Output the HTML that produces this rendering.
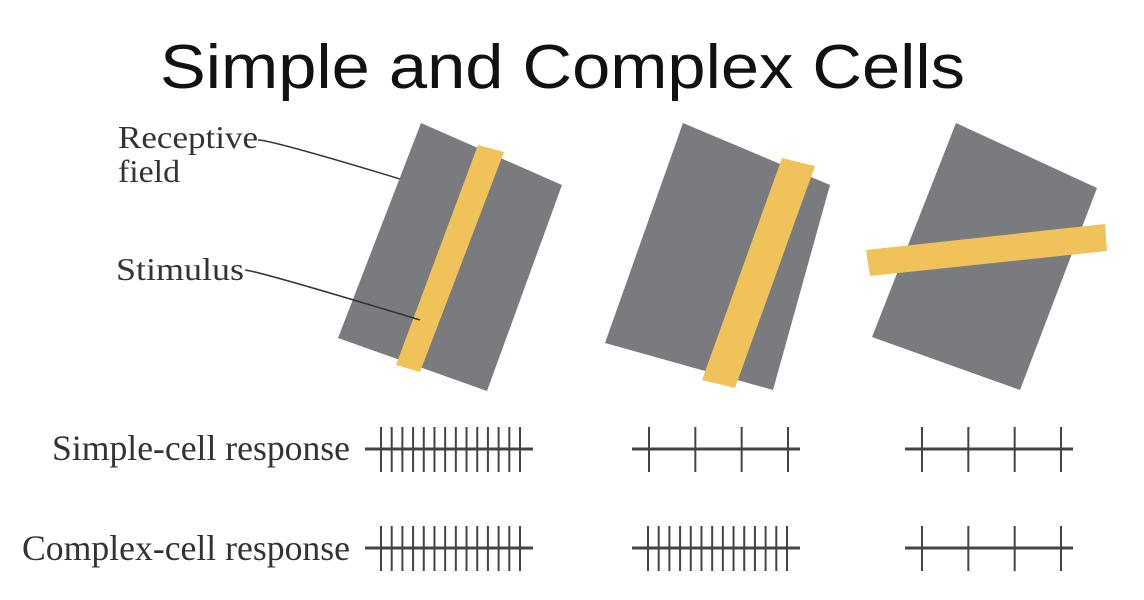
<!DOCTYPE html>
<html><head><meta charset="utf-8"><style>
body{margin:0;background:#fff;width:1144px;height:600px;overflow:hidden}
svg{display:block}
</style></head><body>
<svg width="1144" height="600">
<text x="160" y="88" textLength="805" lengthAdjust="spacingAndGlyphs" font-family="Liberation Sans, sans-serif" font-size="62" fill="#111">Simple and Complex Cells</text>
<g font-family="Liberation Serif, serif" font-size="32" fill="#333">
<text x="118" y="148" textLength="140" lengthAdjust="spacingAndGlyphs">Receptive</text>
<text x="118" y="182" textLength="62" lengthAdjust="spacingAndGlyphs">field</text>
<text x="116" y="280" textLength="128" lengthAdjust="spacingAndGlyphs">Stimulus</text>
<text x="52" y="460" font-size="36" textLength="298" lengthAdjust="spacingAndGlyphs">Simple-cell response</text>
<text x="22" y="560" font-size="36" textLength="328" lengthAdjust="spacingAndGlyphs">Complex-cell response</text>
</g>
<path d="M258,140 Q272,140 410,182" stroke="#333" stroke-width="1.5" fill="none"/>
<polygon points="421,123 562,185 487,391 338,338" fill="#7a7b7f"/>
<polygon points="478,145 504,152 420,372 396,365" fill="#f0c35a"/>
<path d="M245,270 Q262,272 420,320" stroke="#333" stroke-width="1.5" fill="none"/>
<polygon points="683,123 830,185 773,390 605,343" fill="#7a7b7f"/>
<polygon points="782,158 815,166 735,388 702,380" fill="#f0c35a"/>
<polygon points="956,123 1097,188 1020,390 872,337" fill="#7a7b7f"/>
<polygon points="866,250 1105,224 1107,251 870,276" fill="#f0c35a"/>
<g id="trains" stroke="#444"></g>
</svg>
<script>
const trainStarts=[365,632,905];
const simpleSpikes=[14,4,4];
const complexSpikes=[14,14,4];
const g=document.getElementById('trains');
function train(x0,y,n,name){
  const ln=document.createElementNS('http://www.w3.org/2000/svg','line');
  ln.setAttribute('x1',x0);ln.setAttribute('x2',x0+168);ln.setAttribute('y1',y);ln.setAttribute('y2',y);ln.setAttribute('stroke-width','3');
  
  
  g.appendChild(ln);
  let a,b;
  if(n>6){a=x0+16;b=x0+155;}else{a=x0+17;b=x0+156;}
  for(let i=0;i<n;i++){
    const x=n>1?a+(b-a)*i/(n-1):a;
    const s=document.createElementNS('http://www.w3.org/2000/svg','line');
    s.setAttribute('x1',x);s.setAttribute('x2',x);s.setAttribute('y1',y-22);s.setAttribute('y2',y+23);s.setAttribute('stroke-width','2');
    
    
    g.appendChild(s);
  }
}
trainStarts.forEach((x,i)=>{train(x,449,simpleSpikes[i],'simple-train-'+(i+1));train(x,548,complexSpikes[i],'complex-train-'+(i+1));});
</script>
</body></html>
